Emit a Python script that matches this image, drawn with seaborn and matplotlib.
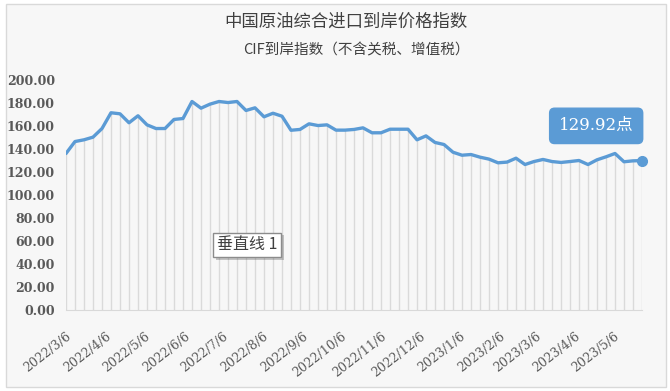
import pandas as pd
import numpy as np
import seaborn as sns
import matplotlib.pyplot as plt
from matplotlib.patches import Rectangle
import matplotlib.patheffects as pe

# weekly index values
dates = [
    "2022-03-06", "2022-03-13", "2022-03-20", "2022-03-27", "2022-04-03", "2022-04-10",
    "2022-04-17", "2022-04-24", "2022-05-01", "2022-05-08", "2022-05-15", "2022-05-22",
    "2022-05-29", "2022-06-05", "2022-06-12", "2022-06-19", "2022-06-26", "2022-07-03",
    "2022-07-10", "2022-07-17", "2022-07-24", "2022-07-31", "2022-08-07", "2022-08-14",
    "2022-08-21", "2022-08-28", "2022-09-04", "2022-09-11", "2022-09-18", "2022-09-25",
    "2022-10-02", "2022-10-09", "2022-10-16", "2022-10-23", "2022-10-30", "2022-11-06",
    "2022-11-13", "2022-11-20", "2022-11-27", "2022-12-04", "2022-12-11", "2022-12-18",
    "2022-12-25", "2023-01-01", "2023-01-08", "2023-01-15", "2023-01-22", "2023-01-29",
    "2023-02-05", "2023-02-12", "2023-02-19", "2023-02-26", "2023-03-05", "2023-03-12",
    "2023-03-19", "2023-03-26", "2023-04-02", "2023-04-09", "2023-04-16", "2023-04-23",
    "2023-04-30", "2023-05-07", "2023-05-14", "2023-05-21", "2023-05-28",
]
index_values = [
    136.1, 146.5, 148.0, 150.3, 157.8, 171.5, 170.6, 162.8, 168.9, 161.0,
    157.8, 157.8, 165.7, 166.5, 181.3, 175.5, 179.0, 181.3, 180.4, 181.3,
    173.5, 175.8, 168.0, 171.1, 168.5, 156.3, 157.0, 161.9, 160.4, 161.0,
    156.4, 156.4, 157.0, 158.4, 154.1, 154.1, 157.2, 157.2, 157.2, 148.0,
    151.4, 145.7, 143.9, 137.2, 134.6, 135.2, 132.9, 131.2, 128.0, 128.6,
    132.0, 126.5, 129.1, 130.9, 129.1, 128.3, 129.1, 130.0, 126.5, 130.6,
    133.2, 136.1, 128.9, 129.7, 129.92,
]
tick_dates = [
    "2022-03-06", "2022-04-06", "2022-05-06", "2022-06-06", "2022-07-06", "2022-08-06",
    "2022-09-06", "2022-10-06", "2022-11-06", "2022-12-06", "2023-01-06", "2023-02-06",
    "2023-03-06", "2023-04-06", "2023-05-06",
]
tick_labels = [
    "2022/3/6", "2022/4/6", "2022/5/6", "2022/6/6", "2022/7/6", "2022/8/6",
    "2022/9/6", "2022/10/6", "2022/11/6", "2022/12/6", "2023/1/6", "2023/2/6",
    "2023/3/6", "2023/4/6", "2023/5/6",
]
y_ticks = [0, 20, 40, 60, 80, 100, 120, 140, 160, 180, 200]

title = "中国原油综合进口到岸价格指数"
subtitle = "CIF到岸指数（不含关税、增值税）"
last_label = "129.92点"
note_label = "垂直线 1"

df = pd.DataFrame({"date": pd.to_datetime(dates), "value": index_values})

sns.set_style("white")
plt.rcParams["font.family"] = ["Noto Sans CJK SC", "DejaVu Sans"]

blue = "#5b9bd5"
grey_txt = "#595959"

fig = plt.figure(figsize=(6.7, 3.91), dpi=100)
fig.patch.set_facecolor("white")
# chart frame
fig.patches.append(Rectangle((6 / 670, 4 / 391), 660 / 670, 383 / 391,
                             transform=fig.transFigure, facecolor="#f7f7f7",
                             edgecolor="#d9d9d9", linewidth=1, zorder=-10))

ax = fig.add_axes([66 / 670, 81 / 391, 576 / 670, 230 / 391])
ax.set_facecolor("none")

# drop lines
ax.vlines(df["date"], 0, df["value"], color="#dadada", linewidth=1, zorder=1)
sns.lineplot(data=df, x="date", y="value", ax=ax, color=blue, linewidth=2.4, zorder=3)
ax.plot(df["date"].iloc[-1], df["value"].iloc[-1], "o", color=blue, markersize=7,
        zorder=4, clip_on=False)

ax.set_ylim(0, 200)
ax.set_xlim(df["date"].iloc[0], df["date"].iloc[-1])
ax.set_yticks(y_ticks)
ax.set_yticklabels([f"{v:.2f}" for v in y_ticks], family="DejaVu Serif",
                   fontweight="bold", fontsize=9, color=grey_txt)
ax.set_xticks(pd.to_datetime(tick_dates))
ax.set_xticklabels(tick_labels, rotation=38, ha="right", rotation_mode="anchor",
                   family="DejaVu Serif", fontsize=9, color=grey_txt)
ax.set_xlabel("")
ax.set_ylabel("")

for s in ["top", "right", "left"]:
    ax.spines[s].set_visible(False)
ax.spines["bottom"].set_color("#d9d9d9")
ax.tick_params(axis="y", length=0, pad=8)
ax.tick_params(axis="x", length=4, color="#d9d9d9", direction="out", pad=10)

# value callout
ax.annotate(last_label, xy=(df["date"].iloc[-1], df["value"].iloc[-1]),
            xytext=(-33, 25), textcoords="offset points", ha="center", va="center",
            color="white", fontsize=12, family=["DejaVu Serif", "Noto Sans CJK SC"],
            bbox=dict(boxstyle="round,pad=0.55,rounding_size=0.3", fc=blue, ec=blue))

# vertical line label box
t = fig.text(247 / 670, 1 - 245 / 391, note_label, ha="center", va="center",
             fontsize=11.5, color="#404040",
             bbox=dict(boxstyle="square,pad=0.25", fc="white", ec="#8c8c8c", lw=1))
t.get_bbox_patch().set_path_effects([pe.withSimplePatchShadow(offset=(2, -2), alpha=0.3)])

fig.text(346 / 670, 1 - 22 / 391, title, ha="center", va="center",
         fontsize=12.5, color="#404040")
fig.text(356 / 670, 1 - 50 / 391, subtitle, ha="center", va="center",
         fontsize=10.5, color="#404040")

fig.savefig("out.png", dpi=100)
